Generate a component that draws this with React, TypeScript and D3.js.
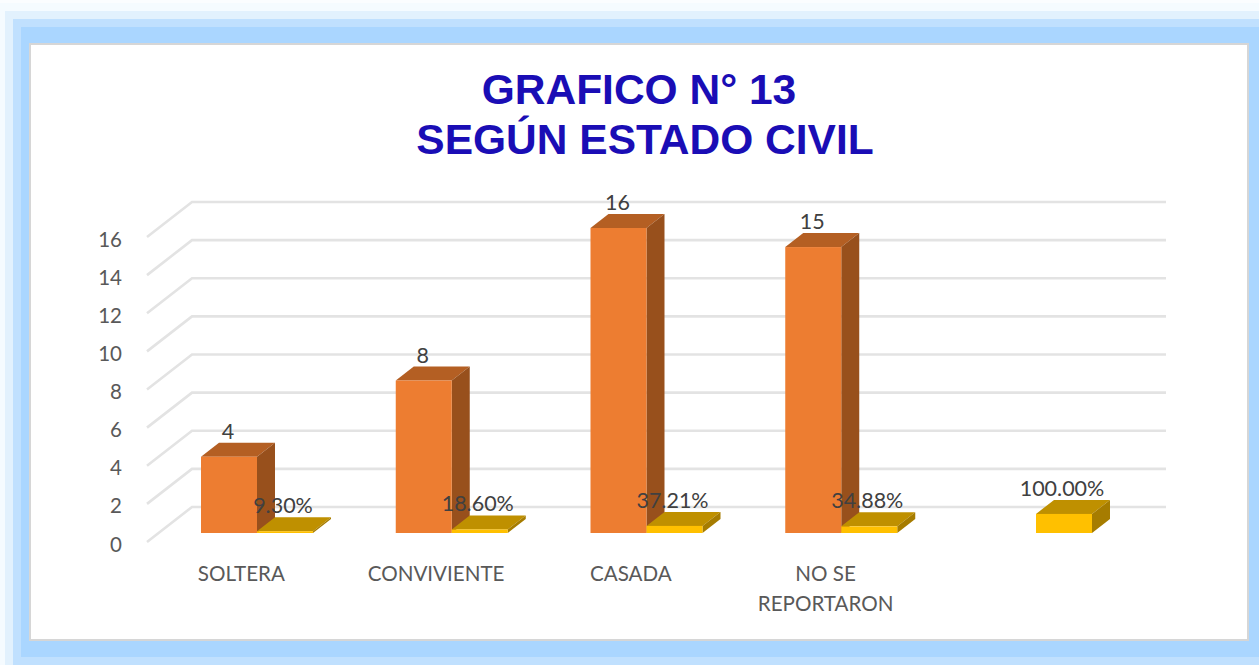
import React from "react";
import * as d3 from "d3";

const titleLines = ["GRAFICO N° 13", "SEGÚN ESTADO CIVIL"];
const categories = ["SOLTERA", "CONVIVIENTE", "CASADA", "NO SE REPORTARON", "TOTAL"];
const categoryLabels = [["SOLTERA"], ["CONVIVIENTE"], ["CASADA"], ["NO SE", "REPORTARON"], []];
const counts = [4, 8, 16, 15, null];
const shares = [0.093, 0.186, 0.3721, 0.3488, 1];
const shareLabels = ["9.30%", "18.60%", "37.21%", "34.88%", "100.00%"];
const ticks = [0, 2, 4, 6, 8, 10, 12, 14, 16];

const W = 1259, H = 665;
const frontBase = 542, backDx = 45, backDy = -35;
const barDx = 18, barDy = -14, barInset = 9;

const x = d3.scaleBand<string>().domain(categories).range([147, 147 + 5 * 194.75]);
const inner = d3.scaleBand<string>().domain(["count", "share"]).range([54, 166]);
const y = d3.scaleLinear().domain([0, 16]).range([frontBase, frontBase - 305]);
const barY = (v: number) => y(v) - barInset;
const poly = d3.line();

function Box({ x0, v, w, front, top, side }: { x0: number; v: number; w: number; front: string; top: string; side: string }) {
  const yb = barY(0), yt = barY(v), x1 = x0 + w;
  return (
    <g>
      <path d={poly([[x0, yt], [x0 + barDx, yt + barDy], [x1 + barDx, yt + barDy], [x1, yt]]) + "Z"} fill={top} />
      <path d={poly([[x1, yt], [x1 + barDx, yt + barDy], [x1 + barDx, yb + barDy], [x1, yb]]) + "Z"} fill={side} />
      <rect x={x0} y={yt} width={w} height={yb - yt} fill={front} />
    </g>
  );
}

export default function App() {
  const font = "Lato, 'Open Sans', sans-serif";
  const bw = inner.bandwidth();
  return (
    <svg width={W} height={H} viewBox={`0 0 ${W} ${H}`} style={{ position: "absolute", left: 0, top: 0, display: "block" }}>
      <rect width={W} height={H} fill="#fbfdff" />
      <rect x={0} y={3} width={W} height={H - 3} fill="#f5fbff" />
      <rect x={5} y={11} width={W - 5} height={H - 11} fill="#e2f1fd" />
      <rect x={13} y={19} width={W - 13} height={H - 19} fill="#c0e0fe" />
      <rect x={21} y={27} width={W - 21} height={H - 27 - 8} fill="#aad6ff" />
      <rect x={30} y={44} width={1218} height={596} fill="#ffffff" stroke="#d6d6d6" strokeWidth={2} />

      <g fontFamily="'Liberation Sans', Arial, sans-serif" fontWeight="bold" fontSize={42.5} fill="#1a0db5" textAnchor="middle">
        <text x={639} y={104}>{titleLines[0]}</text>
        <text x={645} y={154}>{titleLines[1]}</text>
      </g>

      <g stroke="#e3e3e3" strokeWidth={2.6} fill="none">
        {ticks.map((t) => (
          <path key={t} d={poly([[147, y(t)], [147 + backDx, y(t) + backDy], [1166, y(t) + backDy]]) as string} />
        ))}
      </g>

      <g fontFamily={font} fontSize={20.5} fill="#595959" textAnchor="end">
        {ticks.map((t) => (
          <text key={t} x={122} y={y(t) + 9.5}>{t}</text>
        ))}
      </g>

      {categories.map((c, i) => {
        const band = x(c)!;
        const count = counts[i];
        const cx = band + inner("count")!;
        const sx = band + inner("share")!;
        return (
          <g key={c}>
            {count != null && <Box x0={cx} v={count} w={bw} front="#ed7d31" top="#b45f23" side="#98501c" />}
            <Box x0={sx} v={shares[i]} w={bw} front="#ffc000" top="#bf9000" side="#a67c00" />
          </g>
        );
      })}

      <g fontFamily={font} fontSize={21.5} fill="#404040" textAnchor="middle">
        {categories.map((c, i) => {
          const band = x(c)!;
          const count = counts[i];
          return (
            <g key={c}>
              {count != null && <text x={band + inner("count")! + bw / 2 - 1} y={barY(count) - 18}>{count}</text>}
              <text x={band + inner("share")! + bw / 2 - 2} y={barY(shares[i]) - 18}>{shareLabels[i]}</text>
            </g>
          );
        })}
      </g>

      <g fontFamily={font} fontSize={20.6} fill="#595959" textAnchor="middle">
        {categories.map((c, i) =>
          categoryLabels[i].map((line, j) => (
            <text key={line} x={x(c)! + x.bandwidth() / 2 - 3} y={581 + j * 30}>{line}</text>
          ))
        )}
      </g>
    </svg>
  );
}
